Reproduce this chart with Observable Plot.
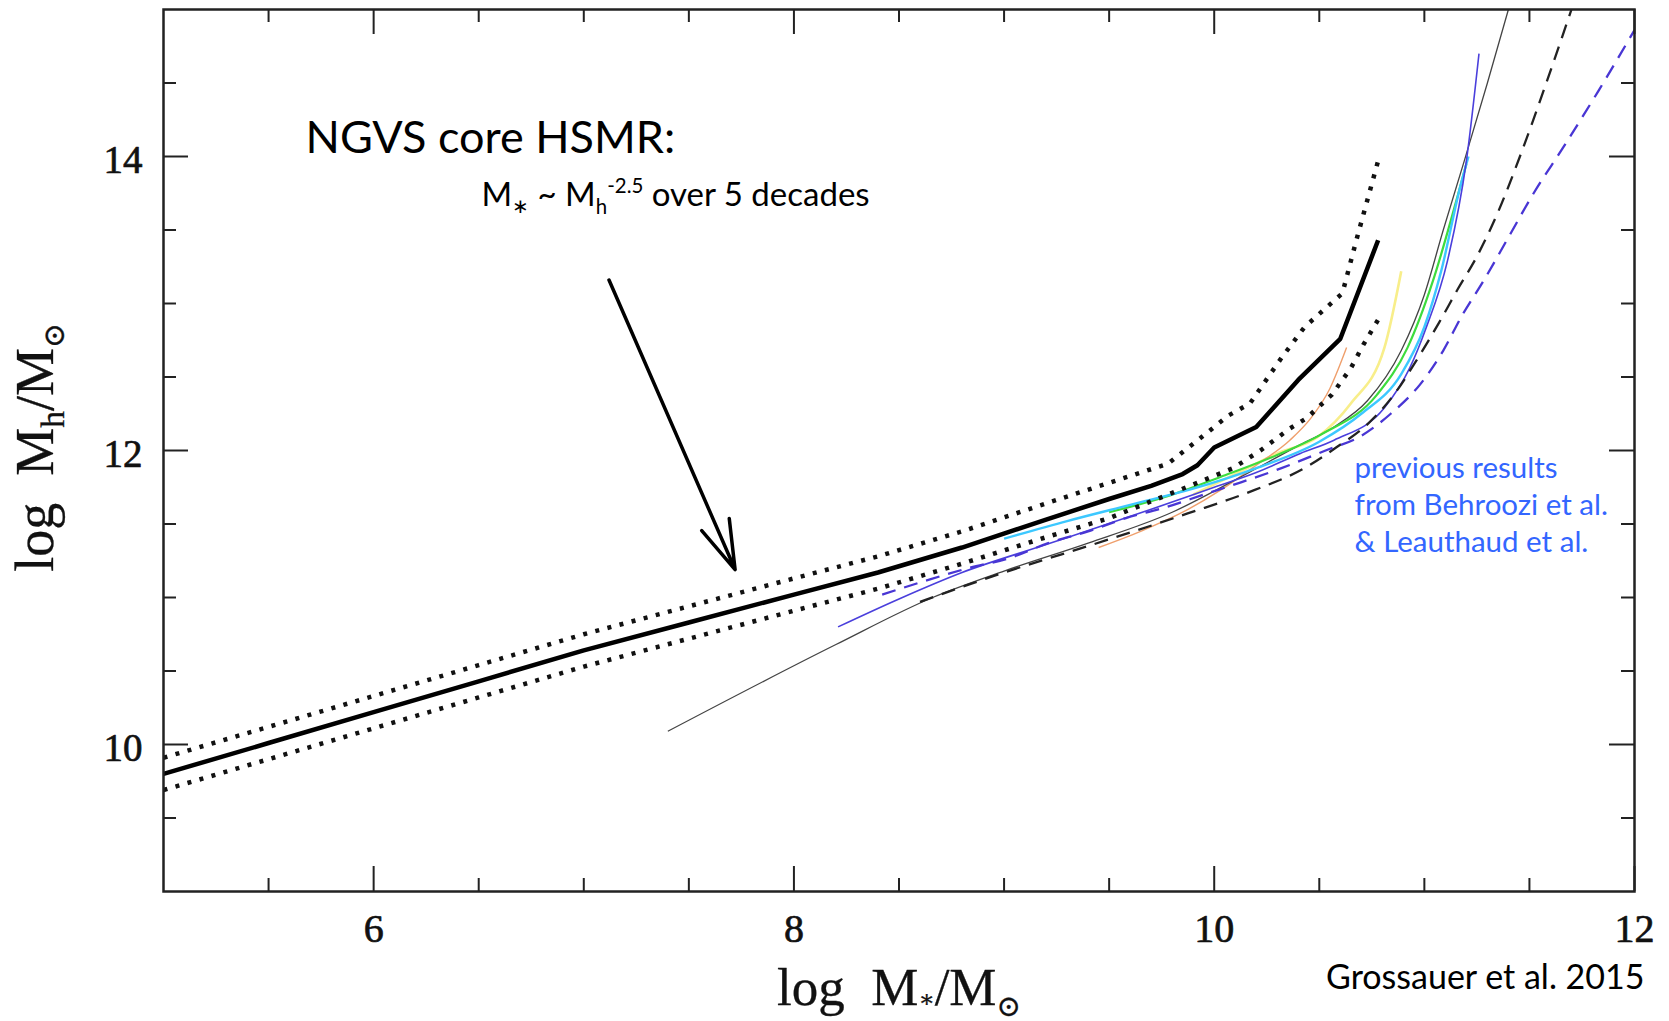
<!DOCTYPE html>
<html>
<head>
<meta charset="utf-8">
<script src="https://cdn.jsdelivr.net/npm/d3@7"></script>
<script src="https://cdn.jsdelivr.net/npm/@observablehq/plot@0.6"></script>
<style>
  html, body { margin: 0; padding: 0; background: #fff; }
  svg text { white-space: pre; }
</style>
</head>
<body>
<div id="chart"></div>
<script>
// ---------- data ----------
// NGVS core HSMR (thick solid) and its dotted envelope
const ngvsX = [5.0, 5.5, 6.0, 6.5, 7.0, 7.5, 8.0, 8.4, 8.8, 9.2, 9.5, 9.7, 9.85, 9.92, 10.0, 10.2, 10.4, 10.6, 10.78];
const ngvsY = [9.80, 10.01, 10.22, 10.43, 10.64, 10.83, 11.02, 11.17, 11.34, 11.53, 11.67, 11.76, 11.84, 11.90, 12.02, 12.16, 12.48, 12.76, 13.43];
const ngvsUpX = [5.0, 5.5, 6.0, 6.5, 7.0, 7.5, 8.0, 8.4, 8.8, 9.2, 9.5, 9.78, 9.93, 10.07, 10.17, 10.32, 10.43, 10.61, 10.68, 10.78];
const ngvsUpY = [9.91, 10.12, 10.33, 10.54, 10.75, 10.94, 11.13, 11.28, 11.45, 11.64, 11.78, 11.91, 12.08, 12.24, 12.32, 12.63, 12.84, 13.07, 13.45, 13.97];
const ngvsLoX = [5.0, 5.5, 6.0, 6.5, 7.0, 7.5, 8.0, 8.4, 8.8, 9.2, 9.5, 9.85, 10.09, 10.22, 10.36, 10.44, 10.56, 10.65, 10.71, 10.78];
const ngvsLoY = [9.69, 9.90, 10.11, 10.32, 10.53, 10.72, 10.91, 11.06, 11.23, 11.41, 11.54, 11.74, 11.88, 12.00, 12.15, 12.22, 12.38, 12.56, 12.72, 12.89];

// previous results (Behroozi et al. / Leauthaud et al.)
const thinX = [7.40, 8.20, 8.66, 9.0, 9.4, 9.8, 10.1, 10.41, 10.57, 10.73, 10.89, 11.0, 11.09, 11.19, 11.30, 11.40];
const thinY = [10.09, 10.68, 11.00, 11.18, 11.37, 11.58, 11.80, 12.04, 12.16, 12.34, 12.68, 13.06, 13.50, 13.97, 14.50, 15.0];
const blueX = [8.21, 8.5, 8.8, 9.2, 9.7, 10.0, 10.2, 10.41, 10.57, 10.81, 10.93, 11.01, 11.11, 11.20, 11.26];
const blueY = [10.80, 10.99, 11.17, 11.36, 11.60, 11.75, 11.85, 11.98, 12.07, 12.29, 12.56, 12.84, 13.29, 13.97, 14.70];
const cyanX = [9.0, 9.3, 9.6, 9.9, 10.2, 10.5, 10.7, 10.89, 11.0, 11.08, 11.17, 11.21];
const cyanY = [11.40, 11.52, 11.63, 11.74, 11.88, 12.06, 12.25, 12.52, 12.84, 13.22, 13.79, 14.0];
const greenX = [9.5, 9.8, 10.03, 10.3, 10.51, 10.775, 10.92, 11.04, 11.16, 11.2];
const greenY = [11.58, 11.70, 11.82, 11.97, 12.11, 12.38, 12.70, 13.15, 13.74, 13.95];
const yellowX = [9.9, 10.1, 10.3, 10.49, 10.65, 10.81, 10.89];
const yellowY = [11.70, 11.84, 11.98, 12.09, 12.32, 12.70, 13.22];
const orangeX = [9.45, 9.65, 9.85, 10.03, 10.2, 10.36, 10.46, 10.55, 10.63];
const orangeY = [11.34, 11.45, 11.58, 11.73, 11.90, 12.07, 12.22, 12.42, 12.70];
const blackDashX = [8.6, 9.0, 9.4, 9.87, 10.19, 10.43, 10.58, 10.73, 10.85, 10.97, 11.07, 11.16, 11.25, 11.35, 11.46, 11.58, 11.70];
const blackDashY = [10.97, 11.17, 11.35, 11.57, 11.73, 11.88, 12.02, 12.18, 12.37, 12.63, 12.87, 13.10, 13.32, 13.62, 14.02, 14.50, 15.0];
const blueDashX = [8.42, 8.64, 8.83, 9.03, 9.21, 9.40, 9.58, 9.76, 9.95, 10.12, 10.32, 10.53, 10.70, 10.84, 10.98, 11.09, 11.18, 11.28, 11.40, 11.52, 11.66, 11.83, 12.0];
const blueDashY = [11.02, 11.12, 11.20, 11.27, 11.37, 11.45, 11.54, 11.61, 11.70, 11.78, 11.88, 12.00, 12.10, 12.25, 12.45, 12.68, 12.92, 13.15, 13.45, 13.75, 14.06, 14.45, 14.86];

// ticks and labels
const xMajorTicks = [6, 8, 10, 12];
const xMinorTicks = [5.5, 6.5, 7, 7.5, 8.5, 9, 9.5, 10.5, 11, 11.5];
const yMajorTicks = [10, 12, 14];
const yMinorTicks = [9.5, 10.5, 11, 11.5, 12.5, 13, 13.5, 14.5];
const xTickLabels = ["6", "8", "10", "12"];
const yTickLabels = ["10", "12", "14"];
const xAxisLabel = "log  M*/M⊙";
const yAxisLabel = "log  Mh/M⊙";

// annotations (positions in data units)
const arrowFrom = [7.12, 13.16];
const arrowTo = [7.72, 11.19];
const titleText = "NGVS core HSMR:";
const titlePos = [5.676, 14.024];
const formulaText = "M* ~ Mh-2.5 over 5 decades";
const formulaPos = [6.513, 13.664];
const prevText = "previous results\nfrom Behroozi et al.\n& Leauthaud et al.";
const prevPos = [10.668, 11.312];
const creditText = "Grossauer et al. 2015";

// ---------- chart ----------
const W = 1669, H = 1021;
const mL = 163, mR = 35, mT = 9, mB = 130;
const frameW = W - mL - mR, frameH = H - mT - mB;
const majorLen = 25, minorLen = 13;
const serif = "'Liberation Serif', 'DejaVu Serif', serif";
const sans = "Lato, 'Noto Sans', sans-serif";
const rows = (xs, ys) => xs.map((x, i) => ({x, y: ys[i]}));
const ln = (xs, ys, o) => Plot.line(rows(xs, ys), {x: "x", y: "y", curve: "monotone-x", clip: true, strokeLinecap: "butt", ...o});

const chart = Plot.plot({
  width: W, height: H,
  marginLeft: mL, marginRight: mR, marginTop: mT, marginBottom: mB,
  x: {domain: [5, 12], axis: null},
  y: {domain: [9, 15], axis: null},
  style: {background: "#fff", overflow: "visible"},
  marks: [
    ln(yellowX, yellowY, {stroke: "#f8ee8a", strokeWidth: 2.6}),
    ln(orangeX, orangeY, {stroke: "#ef9f6c", strokeWidth: 1.4}),
    ln(thinX, thinY, {stroke: "#444", strokeWidth: 1.3}),
    ln(greenX, greenY, {stroke: "#3ddc3d", strokeWidth: 2.2}),
    ln(cyanX, cyanY, {stroke: "#3cc8ff", strokeWidth: 2.4}),
    ln(blueX, blueY, {stroke: "#4a3fdc", strokeWidth: 1.6}),
    ln(blackDashX, blackDashY, {stroke: "#222", strokeWidth: 2.3, strokeDasharray: "14,9"}),
    ln(blueDashX, blueDashY, {stroke: "#4936d4", strokeWidth: 2.3, strokeDasharray: "14,9"}),
    ln(ngvsUpX, ngvsUpY, {stroke: "#111", strokeWidth: 4.5, strokeDasharray: "4,8.5", curve: "linear"}),
    ln(ngvsLoX, ngvsLoY, {stroke: "#111", strokeWidth: 4.5, strokeDasharray: "4,8.5", curve: "linear"}),
    ln(ngvsX, ngvsY, {stroke: "#000", strokeWidth: 4.5, curve: "linear", strokeLinejoin: "round"}),

    // frame and inward ticks on all four sides
    Plot.frame({stroke: "#222", strokeWidth: 2.5}),
    Plot.ruleX(xMajorTicks, {x: d => d, insetTop: frameH - majorLen, stroke: "#222", strokeWidth: 2}),
    Plot.ruleX(xMajorTicks, {x: d => d, insetBottom: frameH - majorLen, stroke: "#222", strokeWidth: 2}),
    Plot.ruleX(xMinorTicks, {x: d => d, insetTop: frameH - minorLen, stroke: "#222", strokeWidth: 2}),
    Plot.ruleX(xMinorTicks, {x: d => d, insetBottom: frameH - minorLen, stroke: "#222", strokeWidth: 2}),
    Plot.ruleY(yMajorTicks, {y: d => d, insetRight: frameW - majorLen, stroke: "#222", strokeWidth: 2}),
    Plot.ruleY(yMajorTicks, {y: d => d, insetLeft: frameW - majorLen, stroke: "#222", strokeWidth: 2}),
    Plot.ruleY(yMinorTicks, {y: d => d, insetRight: frameW - minorLen, stroke: "#222", strokeWidth: 2}),
    Plot.ruleY(yMinorTicks, {y: d => d, insetLeft: frameW - minorLen, stroke: "#222", strokeWidth: 2}),

    // tick labels
    Plot.text(xTickLabels, {x: d => +d, text: d => d, frameAnchor: "bottom", textAnchor: "middle", lineAnchor: "bottom", dy: 50,
      fontSize: 40, fontFamily: serif, fill: "#111", stroke: "#111", strokeWidth: 0.7}),
    Plot.text(yTickLabels, {y: d => +d, text: d => d, frameAnchor: "left", textAnchor: "end", lineAnchor: "middle",
      dx: -21, dy: 4, fontSize: 39, fontFamily: serif, fill: "#111", stroke: "#111", strokeWidth: 0.7}),

    // axis labels
    Plot.text([xAxisLabel], {text: d => d, frameAnchor: "bottom", textAnchor: "middle", lineAnchor: "bottom", dy: 113,
      fontSize: 53, fontFamily: serif, fill: "#111", stroke: "#111", strokeWidth: 0.3}),
    Plot.text([yAxisLabel], {text: d => d, frameAnchor: "left", textAnchor: "middle", lineAnchor: "bottom", rotate: -90, dx: -111, dy: -3,
      fontSize: 54, fontFamily: serif, fill: "#111", stroke: "#111", strokeWidth: 0.3}),

    // annotations
    Plot.arrow([{x1: arrowFrom[0], y1: arrowFrom[1], x2: arrowTo[0], y2: arrowTo[1]}],
      {x1: "x1", y1: "y1", x2: "x2", y2: "y2", stroke: "#000", strokeWidth: 3.5, headLength: 22, headAngle: 34}),
    Plot.text([titleText], {x: () => titlePos[0], y: () => titlePos[1], text: d => d, textAnchor: "start",
      lineAnchor: "bottom", fontSize: 45, fontFamily: sans, fill: "#000"}),
    Plot.text([formulaText], {x: () => formulaPos[0], y: () => formulaPos[1], text: d => d, textAnchor: "start",
      lineAnchor: "bottom", fontSize: 33, fontFamily: sans, fill: "#000"}),
    Plot.text([prevText], {x: () => prevPos[0], y: () => prevPos[1], text: d => d, textAnchor: "start",
      lineAnchor: "bottom", lineHeight: 1.25, fontSize: 29.5, fontFamily: sans, fill: "#3366ff"}),
    Plot.text([creditText], {text: d => d, frameAnchor: "bottom-right", textAnchor: "end", lineAnchor: "bottom",
      dx: 10, dy: 97, fontSize: 34, fontFamily: sans, fill: "#000"})
  ]
});

document.getElementById("chart").appendChild(chart);

// rich text: sub/superscripts
function rich(placeholder, parts, fs) {
  d3.select(chart).selectAll("text").filter(function () { return this.textContent === placeholder; }).each(function () {
    const t = d3.select(this);
    t.text(null);
    let cur = 0;
    for (const p of parts) {
      const size = (p.sub || p.sup) ? (p.scale || 0.62) * fs : fs;
      const target = p.sub ? (p.shift ?? 0.28) * fs : p.sup ? -(p.shift ?? 0.42) * fs : 0;
      const ts = t.append("tspan").attr("font-size", size).text(p.t);
      if (target !== cur) ts.attr("dy", target - cur);
      cur = target;
    }
  });
}
rich(xAxisLabel, [{t: "log  M"}, {t: "∗", sub: true, shift: 0.05, scale: 0.45}, {t: "/M"}, {t: "⊙", sub: true, shift: 0.22, scale: 0.55}], 53);
rich(yAxisLabel, [{t: "log  M"}, {t: "h", sub: true, shift: 0.22}, {t: "/M"}, {t: "⊙", sub: true, shift: 0.22, scale: 0.55}], 54);
rich(formulaText, [{t: "M"}, {t: "∗", sub: true, shift: 0.2, scale: 0.6}, {t: " ~ M"}, {t: "h", sub: true, shift: 0.25}, {t: "-2.5", sup: true, shift: 0.4}, {t: " over 5 decades"}], 33);
</script>
</body>
</html>
